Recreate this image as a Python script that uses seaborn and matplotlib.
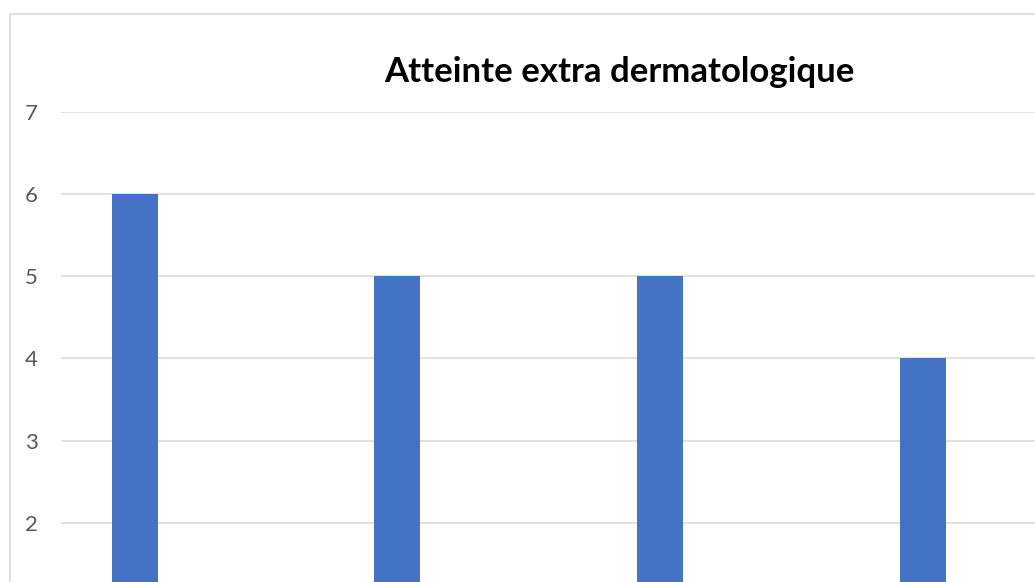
import matplotlib
matplotlib.use("Agg")
import matplotlib.pyplot as plt
import matplotlib.patches as mpatches
import pandas as pd
import seaborn as sns

# Data
categories = ["Articulaire", "Rénale", "Hématologique", "Pulmonaire"]
values = [6, 5, 5, 4]
y_ticks = [2, 3, 4, 5, 6, 7]
title = "Atteinte extra dermatologique"

df = pd.DataFrame({"categorie": categories, "valeur": values})

sns.set_theme(style="white")
plt.rcParams["font.family"] = ["Lato", "DejaVu Sans"]

W, H = 1035, 582
fig = plt.figure(figsize=(W / 100, H / 100), dpi=100)
fig.patch.set_facecolor("white")

# Plot area: top gridline (7) at y=112 px, zero baseline below the visible canvas
left_px, top_px, bottom_px = 61, 112, 687
ax = fig.add_axes([left_px / W, 1 - bottom_px / H, 1 - left_px / W, (bottom_px - top_px) / H])

sns.barplot(data=df, x="categorie", y="valeur", color="#4472C4", width=0.175,
            saturation=1, linewidth=0, ax=ax, zorder=3)

ax.set_ylim(0, 7)
ax.set_xlim(-0.28, 3.427)
ax.set_yticks(y_ticks)
ax.set_yticklabels([str(v) for v in y_ticks])
ax.set_xticklabels([])
ax.yaxis.grid(True, color="#d9d9d9", linewidth=1.1, zorder=0)
ax.xaxis.grid(False)
ax.set_axisbelow(True)
for s in ax.spines.values():
    s.set_visible(False)
ax.tick_params(axis="y", length=0, pad=16.5, labelsize=16, labelcolor="#595959")
ax.tick_params(axis="x", length=0)
ax.set_xlabel("")
ax.set_ylabel("")
ax.patch.set_alpha(0)

# Chart frame
frame = mpatches.Rectangle((9.5 / W, -0.1), 1.2, 1 - 13.5 / H + 0.1,
                           transform=fig.transFigure, fill=False,
                           edgecolor="#d9d9d9", linewidth=1.2, zorder=0)
fig.add_artist(frame)

fig.text(619 / W, 1 - 82 / H, title, ha="center", va="baseline",
         fontsize=25, fontweight="bold", color="black")

fig.savefig("out.png", dpi=100, facecolor="white")
